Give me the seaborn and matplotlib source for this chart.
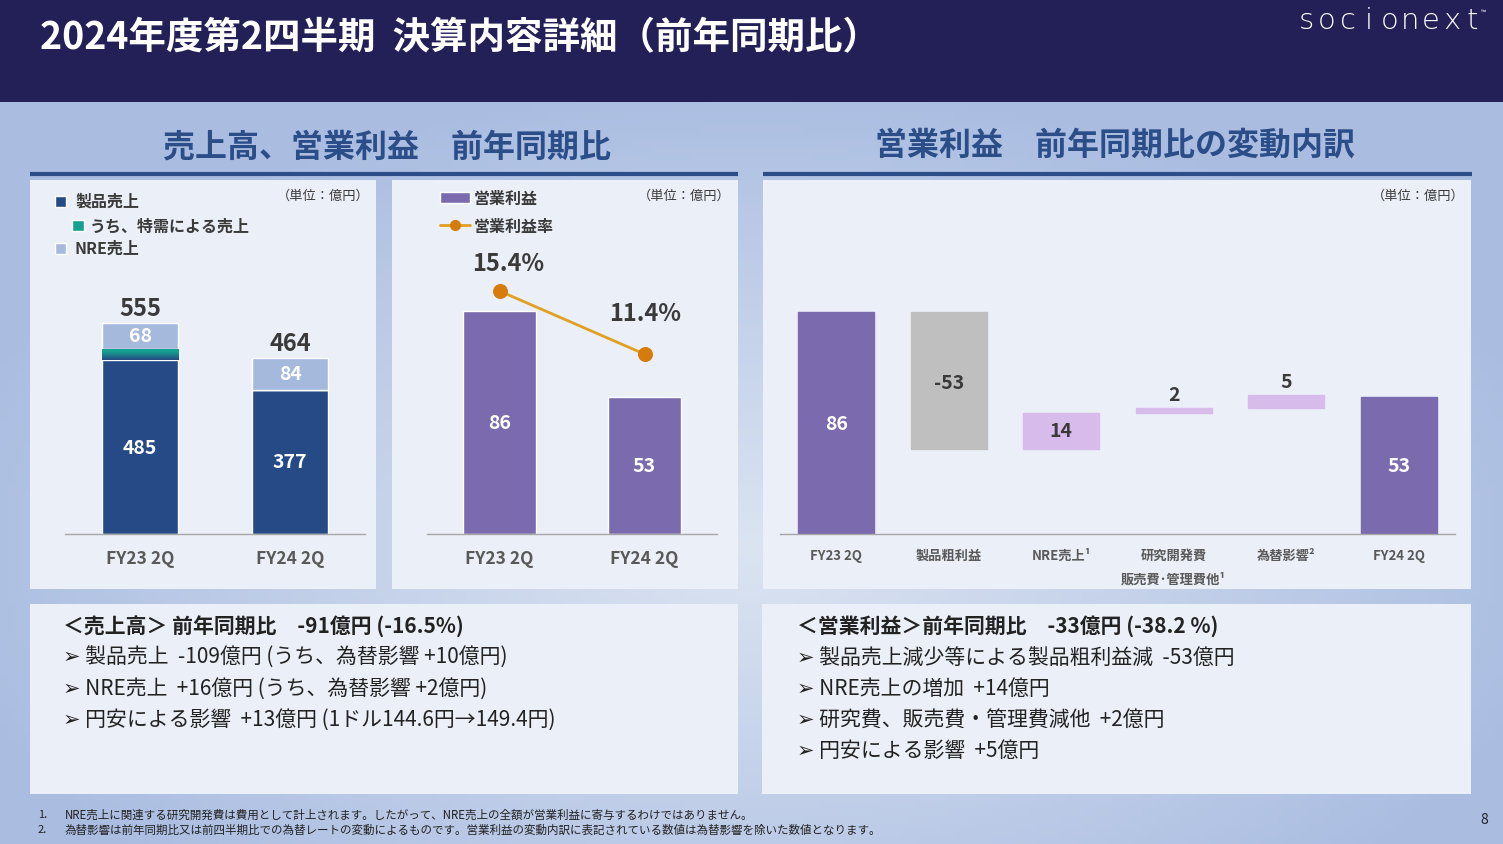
"""
Socionext FY2024 Q2 - sales / operating profit YoY slide.
"""

import numpy as np
import matplotlib.pyplot as plt
import seaborn as sns
from matplotlib.patches import Rectangle
from matplotlib.colors import to_rgb

# ---- data -------------------------------------------------------------
periods = ["FY23 2Q", "FY24 2Q"]
product_sales = [485, 377]
special_sales = [30, 0]      # teal slice inside product sales (estimated)
nre_sales = [68, 84]
total_sales = [555, 464]

op_profit = [86, 53]
op_margin = [15.4, 11.4]

wf_keys = ["FY23 2Q", "製品粗利益", "NRE売上", "研究開発費", "為替影響", "FY24 2Q"]
wf_ticklabels = ["FY23 2Q", "製品粗利益", "NRE売上¹", "研究開発費\n販売費･管理費他¹", "為替影響²", "FY24 2Q"]
wf_start = 86
wf_deltas = [-53, 14, 2, 5]
wf_end = 53

sales_notes = [
    "＜売上高＞ 前年同期比　-91億円 (-16.5%)",
    "➢ 製品売上  -109億円 (うち、為替影響 +10億円)",
    "➢ NRE売上  +16億円 (うち、為替影響 +2億円)",
    "➢ 円安による影響  +13億円 (1ドル144.6円→149.4円)",
]
profit_notes = [
    "＜営業利益＞前年同期比　-33億円 (-38.2 %)",
    "➢ 製品売上減少等による製品粗利益減  -53億円",
    "➢ NRE売上の増加  +14億円",
    "➢ 研究費、販売費・管理費減他  +2億円",
    "➢ 円安による影響  +5億円",
]
footnotes = [
    "NRE売上に関連する研究開発費は費用として計上されます。したがって、NRE売上の全額が営業利益に寄与するわけではありません。",
    "為替影響は前年同期比又は前四半期比での為替レートの変動によるものです。営業利益の変動内訳に表記されている数値は為替影響を除いた数値となります。",
]

# ---- style ------------------------------------------------------------
NAVY_HEAD = "#232058"
TITLE_BLUE = "#2b4d88"
NAVY = "#254a85"
TEAL = "#16a08f"
LIGHT_BLUE = "#a5b9dd"
PURPLE = "#7b6aae"
GRAY = "#bfbfbf"
LAVENDER = "#d7bbea"
ORANGE = "#e2a020"
ORANGE_DOT = "#d67c0c"
PANEL = "#ebeff8"
DARK = "#3a3a3a"
TICK = "#595959"

sns.set_theme(style="white")
plt.rcParams["font.family"] = ["Noto Sans CJK JP", "DejaVu Sans"]

W, H = 1503, 845
fig = plt.figure(figsize=(W / 100, H / 100), dpi=100)

bg = fig.add_axes([0, 0, 1, 1], zorder=0)
bg.set_xlim(0, W)
bg.set_ylim(H, 0)
bg.axis("off")

# soft blue background gradient
gx, gy = np.meshgrid(np.linspace(-1, 1, 200), np.linspace(-1, 1, 120))
d = np.clip(np.sqrt((gx * 0.9) ** 2 + ((gy - 0.3) * 0.9) ** 2), 0, 1)
edge, centre = np.array(to_rgb("#aabde1")), np.array(to_rgb("#dce4f2"))
grad = centre[None, None, :] * (1 - d[..., None]) + edge[None, None, :] * d[..., None]
bg.imshow(grad, extent=[0, W, H, 0], aspect="auto", zorder=0)

# header
bg.add_patch(Rectangle((0, 0), W, 103, fc=NAVY_HEAD, ec="none", zorder=1))
bg.text(40, 38, "2024年度第2四半期  決算内容詳細（前年同期比）", color="white",
        fontsize=27, fontweight="bold", va="center", ha="left", zorder=2)
for i, ch in enumerate("socionext"):
    bg.text(1306 + i * 20.8, 21, ch, color="white", fontsize=21, fontweight="light",
            family="DejaVu Sans", va="center", ha="center", zorder=2)
bg.text(1481, 13, "™", color="white", fontsize=5, va="center", zorder=2)

# section titles
bg.text(387, 148, "売上高、営業利益　前年同期比", color=TITLE_BLUE, fontsize=23,
        fontweight="bold", ha="center", va="center")
bg.text(1115, 146, "営業利益　前年同期比の変動内訳", color=TITLE_BLUE, fontsize=23,
        fontweight="bold", ha="center", va="center")
bg.plot([30, 738], [175, 175], color=TITLE_BLUE, lw=3, solid_capstyle="butt")
bg.plot([763, 1472], [175, 175], color=TITLE_BLUE, lw=3, solid_capstyle="butt")

# panels
for x0, y0, x1, y1 in [(30, 181, 376, 590), (392, 181, 738, 590), (763, 181, 1471, 590),
                       (30, 605, 738, 795), (762, 605, 1471, 795)]:
    bg.add_patch(Rectangle((x0, y0), x1 - x0, y1 - y0, fc=PANEL, ec="none", zorder=1))

for xr in [370, 731, 1465]:
    bg.text(xr, 196, "（単位：億円）", color=DARK, fontsize=9.5, ha="right", va="center", zorder=2)

# legends
bg.add_patch(Rectangle((55, 197), 11, 11, fc=NAVY, zorder=2))
bg.text(75, 202, "製品売上", fontsize=11.5, fontweight="bold", color=DARK, va="center", zorder=2)
bg.add_patch(Rectangle((72, 221), 12, 11, fc=TEAL, zorder=2))
bg.text(90, 227, "うち、特需による売上", fontsize=11.5, fontweight="bold", color=DARK, va="center", zorder=2)
bg.add_patch(Rectangle((55, 244), 11, 11, fc=LIGHT_BLUE, zorder=2))
bg.text(75, 249, "NRE売上", fontsize=11.5, fontweight="bold", color=DARK, va="center", zorder=2)

bg.add_patch(Rectangle((440, 193), 30, 11, fc=PURPLE, zorder=2))
bg.text(474, 199, "営業利益", fontsize=11.5, fontweight="bold", color=DARK, va="center", zorder=2)
bg.plot([440, 470], [226, 226], color=ORANGE, lw=2, zorder=2)
bg.plot([455], [226], "o", color=ORANGE_DOT, ms=7, zorder=3)
bg.text(474, 227, "営業利益率", fontsize=11.5, fontweight="bold", color=DARK, va="center", zorder=2)

# text boxes
for j, line in enumerate(sales_notes):
    bg.text(63, 627 + j * 31, line, fontsize=15, color="#222222", va="center",
            fontweight="bold" if j == 0 else "normal", zorder=2)
for j, line in enumerate(profit_notes):
    bg.text(797, 627 + j * 31, line, fontsize=15, color="#222222", va="center",
            fontweight="bold" if j == 0 else "normal", zorder=2)

for j, note in enumerate(footnotes):
    bg.text(38, 815 + j * 15, f"{j + 1}.", fontsize=8, color="#222222", va="center")
    bg.text(65, 815 + j * 15, note, fontsize=8.3, color="#222222", va="center")
bg.text(1480, 820, "8", fontsize=10, color="#222222", va="center")


def add_px_axes(x0, y0, x1, y1):
    ax = fig.add_axes([x0 / W, 1 - y1 / H, (x1 - x0) / W, (y1 - y0) / H], zorder=2)
    ax.set_facecolor("none")
    return ax


def style_axis(ax, fontsize, pad):
    for side in ["top", "right", "left"]:
        ax.spines[side].set_visible(False)
    ax.spines["bottom"].set_color("#a6a6a6")
    ax.spines["bottom"].set_linewidth(1)
    ax.set_yticks([])
    ax.set_xlabel("")
    ax.set_ylabel("")
    ax.tick_params(axis="x", length=0, pad=pad, labelsize=fontsize, colors=TICK)
    for lbl in ax.get_xticklabels():
        lbl.set_fontweight("bold")


BASE, TOP = 535, 200

# ---- panel 1: sales stacked bars ------------------------------------
ax1 = add_px_axes(65, TOP, 365, BASE)
sns.barplot(x=periods, y=product_sales, color=NAVY, width=0.507, errorbar=None,
            saturation=1, ax=ax1)
special_base = [p - s for p, s in zip(product_sales, special_sales)]
sns.barplot(x=periods, y=special_sales, bottom=special_base, color=TEAL, width=0.507,
            errorbar=None, saturation=1, ax=ax1)
teal_bars = ax1.containers[-1]
ramp = np.linspace(0, 1, 60)
ramp = np.clip((ramp - 0.3) / 0.7, 0, 1)[:, None]
c_teal, c_navy = np.array(to_rgb(TEAL)), np.array(to_rgb(NAVY))
teal_grad = (c_teal * (1 - ramp) + c_navy * ramp)[:, None, :]
for patch in teal_bars:
    if patch.get_height() > 0:
        x0, y0 = patch.get_x(), patch.get_y()
        im = ax1.imshow(teal_grad, extent=[x0, x0 + patch.get_width(), y0, y0 + patch.get_height()],
                        origin="upper", aspect="auto", zorder=3)
        im.set_clip_path(patch)
sns.barplot(x=periods, y=nre_sales, bottom=product_sales, color=LIGHT_BLUE, width=0.507,
            errorbar=None, saturation=1, ax=ax1)
for i in range(len(periods)):
    ax1.text(i, (product_sales[i] - special_sales[i]) / 2, f"{product_sales[i]}", color="white",
             fontsize=14, fontweight="bold", ha="center", va="center", zorder=5)
    ax1.text(i, product_sales[i] + nre_sales[i] / 2, f"{nre_sales[i]}", color="white",
             fontsize=14, fontweight="bold", ha="center", va="center", zorder=5)
    ax1.annotate(f"{total_sales[i]}", (i, product_sales[i] + nre_sales[i]), xytext=(0, 15),
                 textcoords="offset pixels", color=DARK, fontsize=17, fontweight="bold",
                 ha="center", va="center", zorder=5)
ax1.set_xlim(-0.5, 1.5)
ax1.set_ylim(0, (BASE - TOP) / 0.382)
style_axis(ax1, 12.5, 11)

# ---- panel 2: operating profit + margin -----------------------------
ax2 = add_px_axes(427, TOP, 717, BASE)
sns.barplot(x=periods, y=op_profit, color=PURPLE, width=0.5, errorbar=None,
            saturation=1, ax=ax2)
for i, v in enumerate(op_profit):
    ax2.text(i, v / 2, f"{v}", color="white", fontsize=14, fontweight="bold",
             ha="center", va="center", zorder=5)
ax2t = ax2.twinx()
sns.lineplot(x=np.arange(len(periods)), y=op_margin, color=ORANGE, lw=2, marker="o",
             markersize=10, markerfacecolor=ORANGE_DOT, markeredgecolor=ORANGE_DOT, ax=ax2t)
for i, (m, off) in enumerate(zip(op_margin, [(9, 28), (1, 41)])):
    ax2t.annotate(f"{m}%", (i, m), xytext=off, textcoords="offset pixels", color=DARK,
                  fontsize=17, fontweight="bold", ha="center", va="center")
ax2.set_xlim(-0.5, 1.5)
ax2.set_ylim(0, (BASE - TOP) / 2.593)
ax2t.set_ylim(0, (BASE - TOP) / 15.78)
for s in ax2t.spines.values():
    s.set_visible(False)
ax2t.set_yticks([])
ax2t.set_ylabel("")
style_axis(ax2, 12.5, 11)

# ---- panel 3: waterfall ---------------------------------------------
heights, bottoms, colors, level = [wf_start], [0], [PURPLE], wf_start
for dv in wf_deltas:
    new = level + dv
    heights.append(abs(dv))
    bottoms.append(min(level, new))
    colors.append(GRAY if dv < 0 else LAVENDER)
    level = new
heights.append(wf_end)
bottoms.append(0)
colors.append(PURPLE)

ax3 = add_px_axes(780, TOP, 1455, BASE)
sns.barplot(x=wf_keys, y=heights, bottom=bottoms, color=PURPLE, width=0.675,
            errorbar=None, saturation=1, ax=ax3)
for patch, c in zip(ax3.containers[0], colors):
    patch.set_facecolor(c)
    patch.set_edgecolor(c)
for i, (h, b) in enumerate(zip(heights, bottoms)):
    if i in (0, len(heights) - 1):
        ax3.text(i, h / 2, f"{h}", color="white", fontsize=14, fontweight="bold",
                 ha="center", va="center")
    elif wf_deltas[i - 1] < 0:
        ax3.annotate(f"{wf_deltas[i - 1]}", (i, b + h), xytext=(0, -70), textcoords="offset pixels",
                     color=DARK, fontsize=14, fontweight="bold", ha="center", va="center")
    elif h >= 10:
        ax3.text(i, b + h / 2, f"{wf_deltas[i - 1]}", color=DARK, fontsize=14,
                 fontweight="bold", ha="center", va="center")
    else:
        ax3.annotate(f"{wf_deltas[i - 1]}", (i, b + h), xytext=(0, 13), textcoords="offset pixels",
                     color=DARK, fontsize=14, fontweight="bold", ha="center", va="center")
ax3.set_xticks(range(len(wf_ticklabels)))
ax3.set_xticklabels(wf_ticklabels)
ax3.set_xlim(-0.5, len(wf_keys) - 0.5)
ax3.set_ylim(0, (BASE - TOP) / 2.58)
style_axis(ax3, 9.5, 10)
for lbl in ax3.get_xticklabels():
    lbl.set_linespacing(1.9)

fig.savefig("out.png", dpi=100)
plt.close(fig)
